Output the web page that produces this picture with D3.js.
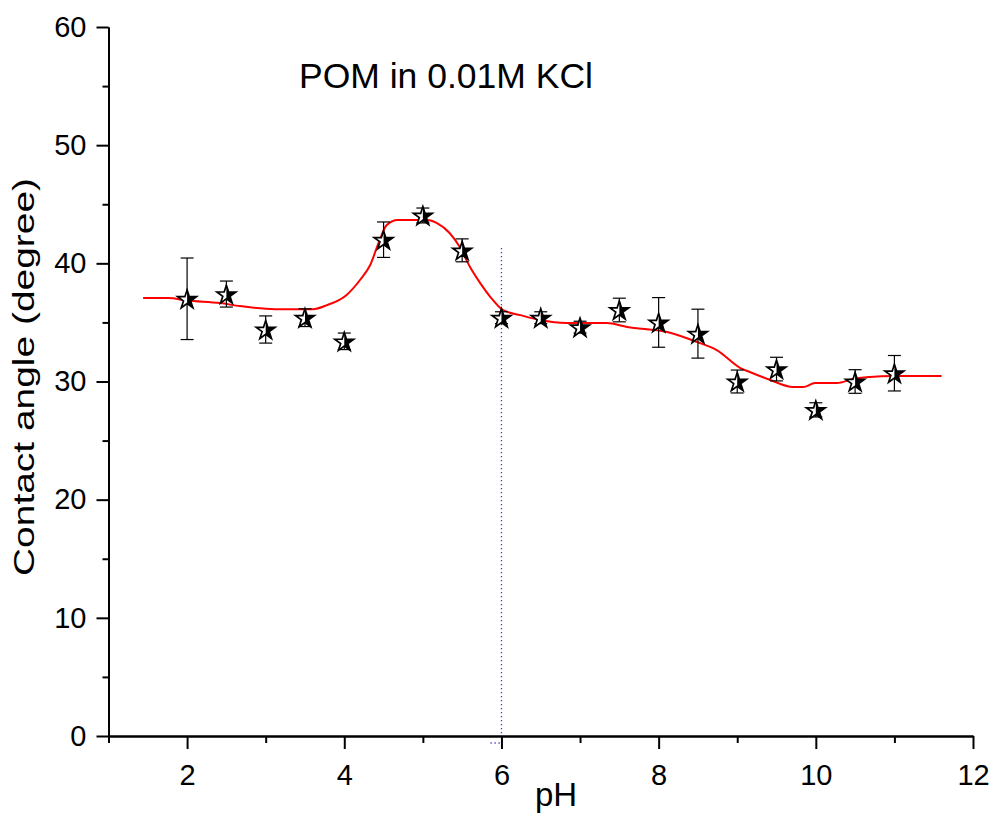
<!DOCTYPE html>
<html>
<head>
<meta charset="utf-8">
<script src="https://cdn.jsdelivr.net/npm/d3@7"></script>
<style>
  html, body { margin: 0; padding: 0; background: #fff; }
  svg { display: block; font-family: "Liberation Sans", Arial, Helvetica, sans-serif; }
</style>
</head>
<body>
<svg id="chart" width="993" height="814"></svg>
<script>
// Measured contact angles (degree) vs pH, with error bars
const pH = [2, 2.5, 3, 3.5, 4, 4.5, 5, 5.5, 6, 6.5, 7, 7.5, 8, 8.5, 9, 9.5, 10, 10.5, 11];
const angle = [37.0, 37.4, 34.4, 35.4, 33.4, 42.0, 44.05, 41.1, 35.4, 35.4, 34.6, 36.05, 35.0, 34.05, 30.0, 31.05, 27.6, 30.0, 30.7];
const angleErr = [3.45, 1.1, 1.15, 0.75, 0.7, 1.5, 0.63, 0.97, 0.5, 0.5, 0.5, 1.0, 2.1, 2.07, 0.97, 1.0, 0.6, 1.0, 1.5];

// Smoothed trend curve
const curvePH = [1.44, 1.76, 2.0, 2.42, 2.67, 3.12, 3.6, 3.78, 4.03, 4.2, 4.33, 4.45, 4.54, 4.68, 5.05, 5.18, 5.34, 5.47, 5.6, 5.73, 5.86, 6.02, 6.24, 6.49, 6.83, 7.34, 7.6, 8.11, 8.49, 8.74, 9.04, 9.16, 9.42, 9.71, 9.84, 9.99, 10.27, 10.47, 10.69, 10.98, 11.6];
const curveAngle = [37.07, 37.07, 36.85, 36.64, 36.38, 36.12, 36.12, 36.46, 37.33, 38.59, 39.86, 41.97, 43.24, 43.67, 43.67, 43.41, 42.57, 41.38, 39.69, 38.33, 37.15, 36.05, 35.62, 35.2, 34.95, 34.95, 34.61, 34.19, 33.34, 32.66, 31.14, 30.8, 30.13, 29.53, 29.53, 29.87, 29.87, 30.21, 30.38, 30.46, 30.46];

// Axis ticks
const xMajorTicks = [2, 4, 6, 8, 10, 12];
const xMinorTicks = [1, 3, 5, 7, 9, 11];
const yMajorTicks = [0, 10, 20, 30, 40, 50, 60];
const yMinorTicks = [5, 15, 25, 35, 45, 55];

// Reference pH marker
const markerPH = 6;
const markerTop = 41.3;

const svg = d3.select("#chart");
const x = d3.scaleLinear().domain([1, 12]).range([108.5, 973]);
const y = d3.scaleLinear().domain([0, 60]).range([736, 27]);

// Dotted drop line at pH 6
const dropColor = "#3a3ad8";
svg.append("line")
  .attr("x1", x(markerPH)).attr("x2", x(markerPH))
  .attr("y1", y(markerTop)).attr("y2", y(0))
  .attr("stroke", dropColor).attr("stroke-width", 1.3)
  .attr("stroke-dasharray", "1.3,2.7");
svg.append("line")
  .attr("x1", x(5.86)).attr("x2", x(markerPH))
  .attr("y1", y(0) + 7).attr("y2", y(0) + 7)
  .attr("stroke", dropColor).attr("stroke-width", 1.3)
  .attr("stroke-dasharray", "1.3,2.7");

// Axes
const axisStyle = g => {
  g.selectAll(".domain").attr("stroke", "#000").attr("stroke-width", 2);
  g.selectAll(".tick line").attr("stroke", "#000").attr("stroke-width", 2);
  g.selectAll(".tick text").attr("fill", "#000").attr("font-size", 29)
    .attr("font-family", "'Liberation Sans', Arial, sans-serif");
};

svg.append("g")
  .attr("transform", `translate(0,${y(0)})`)
  .call(d3.axisBottom(x).tickValues(xMinorTicks).tickSize(7).tickSizeOuter(0).tickFormat(""))
  .call(axisStyle);
svg.append("g")
  .attr("transform", `translate(0,${y(0)})`)
  .call(d3.axisBottom(x).tickValues(xMajorTicks).tickSize(13).tickSizeOuter(0).tickPadding(15).tickFormat(d3.format("d")))
  .call(axisStyle);

svg.append("g")
  .attr("transform", `translate(${x(1)},0)`)
  .call(d3.axisLeft(y).tickValues(yMinorTicks).tickSize(6).tickSizeOuter(0).tickFormat(""))
  .call(axisStyle);
svg.append("g")
  .attr("transform", `translate(${x(1)},0)`)
  .call(d3.axisLeft(y).tickValues(yMajorTicks).tickSize(12).tickSizeOuter(0).tickPadding(10).tickFormat(d3.format("d")))
  .call(axisStyle);

// Trend curve
const line = d3.line()
  .x((d, i) => x(curvePH[i]))
  .y((d, i) => y(curveAngle[i]))
  .curve(d3.curveMonotoneX);
svg.append("path")
  .datum(curvePH)
  .attr("d", line)
  .attr("fill", "none")
  .attr("stroke", "#ff0000")
  .attr("stroke-width", 2);

// Error bars
const capHalf = 6.5;
const eb = svg.append("g").attr("stroke", "#000").attr("stroke-width", 1.2);
pH.forEach((p, i) => {
  const cx = x(p), yt = y(angle[i] + angleErr[i]), yb = y(angle[i] - angleErr[i]);
  eb.append("line").attr("x1", cx).attr("x2", cx).attr("y1", yt).attr("y2", yb);
  eb.append("line").attr("x1", cx - capHalf).attr("x2", cx + capHalf).attr("y1", yt).attr("y2", yt);
  eb.append("line").attr("x1", cx - capHalf).attr("x2", cx + capHalf).attr("y1", yb).attr("y2", yb);
});

// Half-filled star markers
const starPath = d3.symbol().type(d3.symbolStar).size(110)();
svg.append("defs").append("clipPath").attr("id", "rightHalf")
  .append("rect").attr("x", 0).attr("y", -20).attr("width", 20).attr("height", 40);

const stars = svg.append("g").selectAll("g")
  .data(pH)
  .join("g")
  .attr("transform", (d, i) => `translate(${x(d)},${y(angle[i]) + 1})`);
stars.append("path").attr("d", starPath).attr("fill", "#fff");
stars.append("path").attr("d", starPath).attr("fill", "#000").attr("clip-path", "url(#rightHalf)");
stars.append("path").attr("d", starPath).attr("fill", "none").attr("stroke", "#000").attr("stroke-width", 1.7);

// Titles
svg.append("text")
  .attr("x", 299).attr("y", 88)
  .attr("font-size", 35.5).attr("fill", "#000")
  .text("POM in 0.01M KCl");

svg.append("text")
  .attr("x", 535).attr("y", 806)
  .attr("font-size", 33).attr("fill", "#000")
  .text("pH");

svg.append("text")
  .attr("transform", "translate(34,377) rotate(-90)")
  .attr("text-anchor", "middle")
  .attr("font-size", 30)
  .attr("textLength", 398)
  .attr("lengthAdjust", "spacingAndGlyphs")
  .attr("fill", "#000")
  .text("Contact angle (degree)");
</script>
</body>
</html>
